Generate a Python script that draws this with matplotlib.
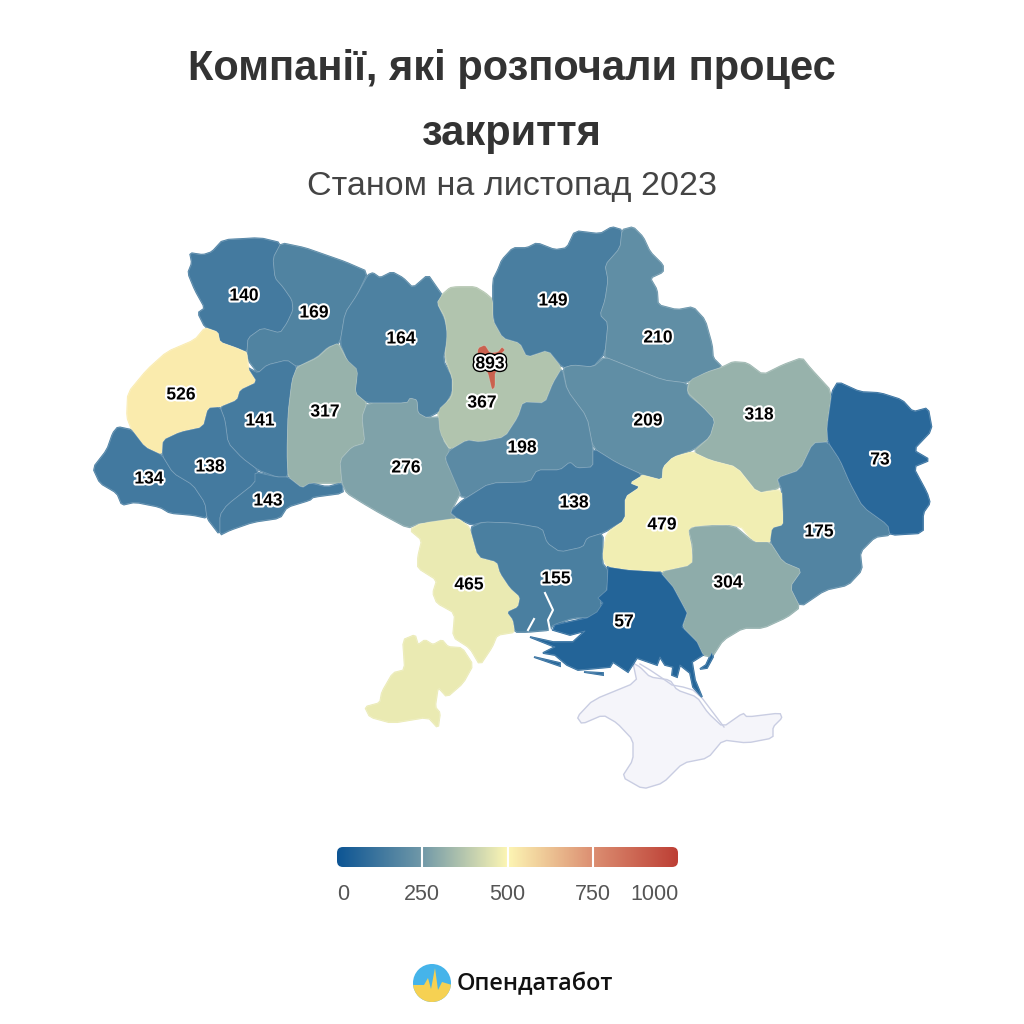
import numpy as np
from matplotlib import pyplot as plt
from matplotlib.colors import LinearSegmentedColormap, Normalize
from matplotlib.patches import Polygon, FancyBboxPatch, Circle
import matplotlib.patheffects as pe

plt.rcParams['font.family'] = ['Liberation Sans', 'DejaVu Sans']

title_lines = ["Компанії, які розпочали процес", "закриття"]
subtitle = "Станом на листопад 2023"
brand = "Опендатабот"

# values by oblast
regions = ["volyn", "rivne", "zhytomyr", "lviv", "ternopil", "khmelnytskyi", "zakarpattia",
           "frankivsk", "chernivtsi", "vinnytsia", "kyiv_obl", "kyiv_city", "chernihiv", "sumy",
           "poltava", "kharkiv", "cherkasy", "kirovohrad", "dnipro", "donetsk", "luhansk",
           "odesa", "mykolaiv", "zaporizhzhia", "kherson"]
values = [140, 169, 164, 526, 141, 317, 134, 138, 143, 276, 367, 893, 149, 210, 209, 318, 198,
          138, 479, 175, 73, 465, 155, 304, 57]
label_x = [244, 314, 401, 181, 260, 325, 149, 210, 268, 406, 482, 490, 553, 658, 648, 759, 522,
           574, 662, 819, 880, 469, 556, 728, 624]
label_y = [296, 313, 339, 395, 421, 412, 479, 467, 501, 468, 403, 364, 301, 338, 421, 415, 448,
           503, 525, 532, 460, 585, 579, 583, 622]

legend_ticks = [0, 250, 500, 750, 1000]
scale_colors = ['#0d5594', '#7199a8', '#fdf6b4', '#dc8f72', '#bd3f35']

volyn = [(190,253),(203,255),(212,252),(223,240),(260,238),(281,243),(273,258),(275,278),(283,287),(292,300),(293,310),(287,323),(280,333),(262,328),(248,338),(247,352),(237,348),(220,342),(218,332),(205,327),(198,313),(205,308),(195,290),(188,273),(192,263)]
rivne = [(281,243),(305,248),(325,255),(345,262),(368,272),(357,295),(345,313),(340,343),(328,347),(317,357),(297,367),(287,360),(267,365),(258,373),(248,360),(247,352),(248,338),(262,328),(280,333),(287,323),(293,310),(292,300),(283,287),(275,278),(273,258)]
zhytomyr = [(368,275),(373,273),(380,278),(392,272),(403,278),(413,288),(428,275),(437,288),(442,295),(437,303),(445,320),(448,337),(443,360),(452,377),(452,393),(442,410),(427,418),(418,413),(417,400),(410,398),(407,403),(367,403),(355,393),(357,377),(347,360),(340,343),(345,313),(357,295)]
khmelnytskyi = [(338,343),(347,360),(358,370),(355,393),(367,403),(362,417),(365,443),(352,447),(340,460),(342,483),(332,483),(310,483),(302,488),(288,477),(287,453),(288,413),(292,380),(297,367),(317,358),(328,348)]
vinnytsia = [(367,403),(407,403),(410,398),(417,400),(418,413),(427,418),(442,417),(443,440),(450,450),(445,460),(462,490),(450,513),(457,518),(442,525),(420,523),(408,528),(380,513),(363,503),(347,493),(342,483),(340,460),(352,447),(365,443),(362,417)]
kyiv_obl = [(437,303),(442,295),(450,288),(457,287),(475,287),(485,293),(493,300),(493,320),(503,338),(520,343),(527,357),(548,350),(562,368),(553,383),(545,403),(523,402),(518,417),(505,437),(480,442),(467,440),(450,450),(440,433),(438,410),(452,397),(453,380),(445,357),(447,333),(445,317)]
kyiv_city = [(478,348),(485,345),(490,353),(498,352),(502,347),(505,350),(500,355),(503,368),(495,372),(495,387),(492,390),(488,373),(485,370),(477,360)]
chernihiv = [(493,280),(498,270),(502,260),(513,248),(527,248),(537,243),(555,250),(567,248),(575,231),(600,234),(612,227),(622,230),(620,248),(605,265),(608,280),(605,300),(600,315),(608,323),(605,353),(593,367),(573,365),(563,368),(548,350),(527,357),(520,343),(503,338),(493,320)]
sumy = [(622,230),(633,227),(643,237),(650,252),(663,265),(663,272),(650,278),(657,290),(658,305),(677,310),(693,307),(705,320),(712,345),(713,358),(722,367),(707,372),(687,383),(663,380),(630,367),(605,357),(605,353),(608,323),(600,315),(605,300),(608,280),(605,265),(620,248)]
poltava = [(563,368),(573,365),(593,367),(605,357),(630,367),(663,380),(687,383),(688,395),(703,407),(715,420),(710,437),(693,450),(673,457),(663,467),(662,480),(643,475),(617,463),(593,448),(587,417),(567,390)]
cherkasy = [(562,368),(567,390),(587,417),(593,448),(593,467),(577,468),(570,462),(560,470),(537,470),(530,482),(490,483),(463,500),(453,477),(445,458),(450,450),(467,440),(480,442),(505,437),(518,417),(523,402),(545,403),(553,383)]
kirovohrad = [(450,512),(463,500),(490,483),(530,482),(537,470),(560,470),(570,462),(577,468),(593,467),(593,448),(617,463),(643,475),(630,483),(640,487),(625,497),(625,520),(603,533),(587,538),(583,547),(560,552),(547,543),(542,528),(513,523),(483,522),(472,525),(457,518)]
mykolaiv = [(470,528),(483,522),(513,523),(542,528),(547,543),(560,552),(583,547),(587,538),(603,533),(602,563),(608,570),(607,590),(600,600),(602,610),(597,617),(573,618),(553,625),(550,630),(527,632),(515,632),(513,620),(507,612),(518,607),(520,597),(510,588),(500,573),(497,562),(478,557)]
odesa = [(410,530),(422,523),(457,518),(470,528),(478,557),(497,562),(500,573),(510,588),(520,597),(518,607),(507,612),(513,620),(515,632),(497,635),(492,647),(480,665),(470,648),(453,637),(455,613),(437,603),(433,593),(437,580),(418,568),(418,557),(422,540)]
odesa_south = [(403,640),(415,635),(418,645),(425,640),(433,645),(442,640),(448,647),(462,648),(473,665),(463,683),(447,697),(438,687),(435,707),(440,713),(438,728),(428,717),(392,723),(370,717),(365,707),(380,703),(382,692),(393,673),(405,670)]
kherson = [(608,567),(628,570),(660,572),(673,587),(687,613),(682,627),(697,642),(703,655),(692,662),(695,680),(702,697),(693,687),(690,673),(680,665),(677,677),(672,675),(673,667),(665,665),(660,657),(657,665),(637,658),(628,672),(613,662),(610,667),(578,670),(567,665),(555,655),(543,653),(555,647),(530,637),(553,642),(573,642),(585,631),(570,635),(553,630),(555,625),(587,618),(597,612),(603,603),(598,598),(607,590)]
kherson_spit1 = [(534,657),(560,663),(560,666)]
kherson_spit2 = [(584,672),(603,673),(603,675)]
kherson_spit3 = [(700,669),(706,665),(712,652),(713,657),(707,668)]
zaporizhzhia = [(660,572),(692,565),(693,547),(688,527),(733,525),(753,542),(770,542),(783,562),(802,570),(790,587),(800,607),(787,617),(763,628),(743,628),(723,640),(712,657),(703,655),(697,642),(682,627),(687,613),(673,587)]
dnipro = [(663,467),(673,457),(693,452),(710,460),(737,467),(757,493),(782,490),(783,513),(785,525),(773,528),(772,542),(755,543),(740,525),(707,525),(688,528),(692,553),(693,565),(660,572),(628,570),(608,567),(602,557),(607,533),(625,520),(625,497),(640,487),(630,483),(643,475),(662,480)]
kharkiv = [(687,392),(690,380),(707,372),(723,367),(733,362),(747,363),(763,375),(783,365),(802,358),(810,368),(832,392),(827,427),(828,442),(813,443),(800,470),(777,478),(780,488),(758,493),(737,467),(710,460),(693,452),(710,437),(715,420),(703,407)]
donetsk = [(828,442),(840,460),(850,483),(863,507),(888,525),(890,535),(875,537),(860,552),(862,570),(848,585),(825,590),(800,607),(790,587),(802,570),(783,562),(770,542),(772,528),(783,525),(783,513),(782,490),(777,478),(800,470),(813,443)]
luhansk = [(832,392),(838,382),(860,392),(880,393),(902,400),(913,412),(928,408),(932,430),(913,450),(930,460),(913,467),(927,493),(930,503),(923,513),(923,533),(890,535),(888,525),(863,507),(850,483),(840,460),(828,442),(827,427)]
frankivsk = [(208,408),(220,407),(225,420),(228,443),(242,458),(258,470),(255,483),(227,505),(220,515),(220,535),(207,518),(205,503),(193,485),(173,473),(162,455),(163,440),(180,432),(203,427)]
ternopil = [(248,368),(258,373),(267,365),(287,360),(297,367),(292,380),(288,413),(287,453),(288,477),(277,477),(258,470),(242,458),(228,443),(225,420),(220,407),(237,400),(240,390),(257,382)]
lviv = [(205,328),(218,332),(220,342),(237,348),(247,353),(248,368),(257,382),(240,390),(237,400),(220,407),(208,408),(203,427),(180,432),(163,440),(162,455),(145,447),(132,430),(127,417),(128,393),(147,370),(167,352),(195,340)]
zakarpattia = [(118,427),(132,430),(145,447),(162,455),(173,473),(193,485),(205,503),(207,518),(193,515),(170,513),(160,507),(135,502),(122,505),(117,493),(100,483),(93,468),(107,450),(113,433)]
chernivtsi = [(255,472),(277,477),(288,477),(302,488),(310,483),(327,487),(342,483),(343,493),(313,497),(310,500),(287,507),(280,518),(253,522),(230,530),(220,535),(220,515),(227,505),(255,483)]
crimea = [(633,663),(640,667),(650,677),(670,680),(677,690),(697,697),(708,713),(723,727),(743,713),(747,717),(780,713),(782,718),(773,727),(773,738),(747,743),(723,740),(708,758),(683,763),(663,783),(643,789),(622,777),(633,760),(633,740),(617,723),(603,715),(582,724),(577,717),(593,700),(637,682)]
sivash = [(640,664),(650,670),(662,678),(672,685),(683,687),(693,690),(702,698),(724,727)]
mykolaiv_creek = [(545,593),(553,610),(548,620),(550,630)]
mykolaiv_inlet = [(534,619),(528,630)]
logo_ground = [(412,985),(424,985),(428,978),(431,989),(435,968),(438,990),(442,982),(452,985),(452,1003),(412,1003)]

shapes = {"volyn": [volyn], "rivne": [rivne], "zhytomyr": [zhytomyr], "lviv": [lviv], "ternopil": [ternopil],
          "khmelnytskyi": [khmelnytskyi], "zakarpattia": [zakarpattia], "frankivsk": [frankivsk],
          "chernivtsi": [chernivtsi], "vinnytsia": [vinnytsia], "kyiv_obl": [kyiv_obl], "kyiv_city": [kyiv_city],
          "chernihiv": [chernihiv], "sumy": [sumy], "poltava": [poltava], "kharkiv": [kharkiv],
          "cherkasy": [cherkasy], "kirovohrad": [kirovohrad], "dnipro": [dnipro], "donetsk": [donetsk],
          "luhansk": [luhansk], "odesa": [odesa, odesa_south], "mykolaiv": [mykolaiv],
          "zaporizhzhia": [zaporizhzhia], "kherson": [kherson, kherson_spit1, kherson_spit2, kherson_spit3]}


def soften(pts):
    # take the sharp corners off a traced outline
    p = np.array(pts, dtype=float)
    nxt = np.roll(p, -1, axis=0)
    out = np.empty((len(p) * 2, 2))
    out[0::2] = p * 0.85 + nxt * 0.15
    out[1::2] = p * 0.15 + nxt * 0.85
    return out


cmap = LinearSegmentedColormap.from_list("rdylbu", scale_colors)
norm = Normalize(0, 1000)

fig = plt.figure(figsize=(10.24, 10.24), dpi=100)
ax = fig.add_axes([0, 0, 1, 1])
ax.set_xlim(0, 1024)
ax.set_ylim(1024, 0)
ax.axis('off')

# map
ax.add_patch(Polygon(soften(crimea), closed=True, fc='#f5f5fa', ec='#c9cde2', lw=1.0, zorder=1))
xs, ys = zip(*sivash)
ax.plot(xs, ys, color='#c9cde2', lw=1.0, zorder=1)
for name, val in zip(regions, values):
    z = 4 if name == "kyiv_city" else 3
    col = cmap(norm(val))
    for pts in shapes[name]:
        outline = pts if name == "kherson" else soften(pts)
        # own colour underneath closes the small gaps left at the junctions
        ax.add_patch(Polygon(outline, closed=True, fc=col, ec=col, lw=1.3, zorder=2))
        ax.add_patch(Polygon(outline, closed=True, fc=col, ec=(1, 1, 1, 0.22), lw=0.6,
                             joinstyle='round', zorder=z))
for line in [mykolaiv_creek, mykolaiv_inlet]:
    xs, ys = zip(*line)
    ax.plot(xs, ys, color='white', lw=1.5, zorder=4)

for x, y, val in zip(label_x, label_y, values):
    fx = [pe.withStroke(linewidth=3, foreground='white')]
    if val > 800:
        fx = [pe.withStroke(linewidth=5, foreground='black'), pe.withStroke(linewidth=3, foreground='white')]
    ax.text(x, y, str(val), ha='center', va='center', fontsize=12.6, fontweight='bold', color='black',
            path_effects=fx, zorder=5)

# titles
ax.text(512, 69, title_lines[0], ha='center', va='center', fontsize=30, fontweight='bold', color='#333333')
ax.text(512, 134, title_lines[1], ha='center', va='center', fontsize=30, fontweight='bold', color='#333333')
ax.text(512, 186, subtitle, ha='center', va='center', fontsize=24.5, color='#444444')

# colour scale
bar_l, bar_r, bar_t, bar_b = 337, 678, 847, 867
grad = np.linspace(0, 1000, 512).reshape(1, -1)
im = ax.imshow(grad, cmap=cmap, norm=norm, extent=(bar_l, bar_r, bar_b, bar_t), aspect='auto', zorder=2)
clip = FancyBboxPatch((bar_l + 6, bar_t + 6), bar_r - bar_l - 12, bar_b - bar_t - 12,
                      boxstyle="round,pad=6", transform=ax.transData, fc='none', ec='none')
ax.add_patch(clip)
im.set_clip_path(clip)
ax.set_xlim(0, 1024)
ax.set_ylim(1024, 0)
for t in legend_ticks:
    px = bar_l + (bar_r - bar_l) * t / 1000
    if 0 < t < 1000:
        ax.plot([px, px], [bar_t, bar_b], color='white', lw=1.5, zorder=3)
    ha = 'center'
    if t == 0:
        ha = 'left'
    if t == 1000:
        ha = 'right'
    off = {0: 0, 1000: 1}.get(t, 0)
    ax.text(px + off, 894, str(t), ha=ha, va='center', fontsize=15.5, color='#555555')

# logo
sky = Circle((432, 983), 19, fc='#45b4ea', ec='none', zorder=2)
ax.add_patch(sky)
ground = Polygon(logo_ground, closed=True, fc='#f6d152', ec='none', zorder=3)
ax.add_patch(ground)
ground.set_clip_path(Circle((432, 983), 19, transform=ax.transData))
ax.text(457, 984, brand, ha='left', va='center', fontsize=16.9, fontweight='semibold',
        family=['Open Sans', 'DejaVu Sans'], color='#111111')

plt.savefig('out.png', dpi=100)
